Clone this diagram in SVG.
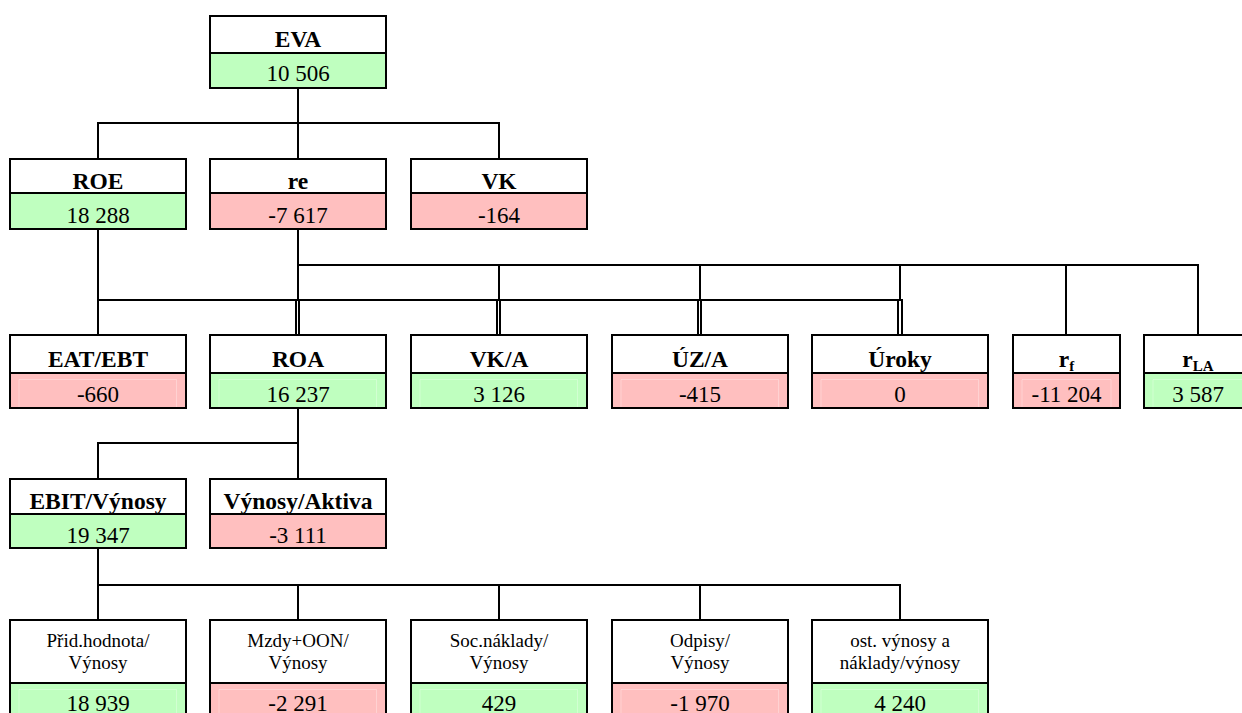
<svg xmlns="http://www.w3.org/2000/svg" width="1242" height="713" viewBox="0 0 1242 713">
  <style>
    .frame { fill: #ffffff; stroke: #000000; stroke-width: 2; }
    .pos { fill: #bfffbf; stroke: #000000; stroke-width: 2; }
    .neg { fill: #ffbfbf; stroke: #000000; stroke-width: 2; }
    .inner { fill: none; stroke: #ffffff; stroke-opacity: 0.3; stroke-width: 1; }
    .lbl { font-family: "Liberation Serif", "Times New Roman", serif; font-weight: bold; font-size: 23.5px; text-anchor: middle; fill: #000; }
    .val { font-family: "Liberation Serif", "Times New Roman", serif; font-size: 23px; text-anchor: middle; fill: #000; }
    .sm { font-family: "Liberation Serif", "Times New Roman", serif; font-size: 19px; text-anchor: middle; fill: #000; }
    .wire { fill: none; stroke: #000000; stroke-width: 2; }
  </style>

  <rect width="1242" height="713" fill="#ffffff"/>

  <!-- connectors -->
  <g id="connectors" class="wire">
    <!-- EVA to its three factors -->
    <path d="M298 88V123 M98 159V123H499V159 M298 123V159"/>
    <!-- ROE branch -->
    <path d="M98 229V335 M98 300H902V335 M296 300V335 M497 300V335 M698 300V335"/>
    <!-- re branch -->
    <path d="M298 229V265H1198V335 M298 265V300 M299 300V335 M499 265V300 M500 300V335 M700 265V300 M701 300V335 M900 265V300 M898 300V335 M1066 265V335"/>
    <!-- ROA branch -->
    <path d="M298 408V443H98V479 M298 443V479"/>
    <!-- EBIT/Výnosy branch -->
    <path d="M98 548V620 M98 585H900V620 M298 585V620 M499 585V620 M700 585V620"/>
  </g>

  <!-- level 1 -->
  <g id="eva">
    <rect class="frame" x="210" y="16" width="176" height="37"/>
    <rect class="pos" x="210" y="53" width="176" height="35"/>
    <text class="lbl" x="298" y="47">EVA</text>
    <text class="val" x="298" y="81">10 506</text>
  </g>

  <!-- level 2 -->
  <g id="roe">
    <rect class="frame" x="10" y="159" width="176" height="34"/>
    <rect class="pos" x="10" y="193" width="176" height="36"/>
    <text class="lbl" x="98" y="189">ROE</text>
    <text class="val" x="98" y="223">18 288</text>
  </g>
  <g id="re">
    <rect class="frame" x="210" y="159" width="176" height="34"/>
    <rect class="neg" x="210" y="193" width="176" height="36"/>
    <text class="lbl" x="298" y="189">re</text>
    <text class="val" x="298" y="223">-7 617</text>
  </g>
  <g id="vk">
    <rect class="frame" x="411" y="159" width="176" height="34"/>
    <rect class="neg" x="411" y="193" width="176" height="36"/>
    <text class="lbl" x="499" y="189">VK</text>
    <text class="val" x="499" y="223">-164</text>
  </g>

  <!-- level 3 -->
  <g id="eat-ebt">
    <rect class="frame" x="10" y="335" width="176" height="38"/>
    <rect class="neg" x="10" y="373" width="176" height="35"/>
    <path class="inner" d="M19 407V379.5H176.5V407"/>
    <text class="lbl" x="98" y="367">EAT/EBT</text>
    <text class="val" x="98" y="402">-660</text>
  </g>
  <g id="roa">
    <rect class="frame" x="210" y="335" width="176" height="38"/>
    <rect class="pos" x="210" y="373" width="176" height="35"/>
    <path class="inner" d="M219 407V379.5H376.5V407"/>
    <text class="lbl" x="298" y="367">ROA</text>
    <text class="val" x="298" y="402">16 237</text>
  </g>
  <g id="vk-a">
    <rect class="frame" x="411" y="335" width="176" height="38"/>
    <rect class="pos" x="411" y="373" width="176" height="35"/>
    <path class="inner" d="M420 407V379.5H577.5V407"/>
    <text class="lbl" x="499" y="367">VK/A</text>
    <text class="val" x="499" y="402">3 126</text>
  </g>
  <g id="uz-a">
    <rect class="frame" x="612" y="335" width="176" height="38"/>
    <rect class="neg" x="612" y="373" width="176" height="35"/>
    <path class="inner" d="M621 407V379.5H778.5V407"/>
    <text class="lbl" x="700" y="367">ÚZ/A</text>
    <text class="val" x="700" y="402">-415</text>
  </g>
  <g id="uroky">
    <rect class="frame" x="812" y="335" width="176" height="38"/>
    <rect class="neg" x="812" y="373" width="176" height="35"/>
    <path class="inner" d="M821 407V379.5H978.5V407"/>
    <text class="lbl" x="900" y="367">Úroky</text>
    <text class="val" x="900" y="402">0</text>
  </g>
  <g id="r-f">
    <rect class="frame" x="1013" y="335" width="107" height="38"/>
    <rect class="neg" x="1013" y="373" width="107" height="35"/>
    <path class="inner" d="M1022 407V379.5H1111V407"/>
    <text class="lbl" x="1066.5" y="367">r<tspan font-size="15" dy="4">f</tspan></text>
    <text class="val" x="1066.5" y="402">-11 204</text>
  </g>
  <g id="r-la">
    <rect class="frame" x="1144" y="335" width="108" height="38"/>
    <rect class="pos" x="1144" y="373" width="108" height="35"/>
    <path class="inner" d="M1153 407V379.5H1243"/>
    <text class="lbl" x="1198" y="367">r<tspan font-size="15" dy="4">LA</tspan></text>
    <text class="val" x="1198" y="402">3 587</text>
  </g>

  <!-- level 4 -->
  <g id="ebit-vynosy">
    <rect class="frame" x="10" y="479" width="176" height="35"/>
    <rect class="pos" x="10" y="514" width="176" height="34"/>
    <text class="lbl" x="98" y="508.5">EBIT/Výnosy</text>
    <text class="val" x="98" y="543">19 347</text>
  </g>
  <g id="vynosy-aktiva">
    <rect class="frame" x="210" y="479" width="176" height="35"/>
    <rect class="neg" x="210" y="514" width="176" height="34"/>
    <text class="lbl" x="298" y="508.5">Výnosy/Aktiva</text>
    <text class="val" x="298" y="543">-3 111</text>
  </g>

  <!-- level 5 -->
  <g id="prid-hodnota">
    <rect class="frame" x="10" y="620" width="176" height="63"/>
    <rect class="pos" x="10" y="683" width="176" height="40"/>
    <path class="inner" d="M19 720V689.5H176.5V720"/>
    <text class="sm" x="98" y="647">Přid.hodnota/</text>
    <text class="sm" x="98" y="669">Výnosy</text>
    <text class="val" x="98" y="711">18 939</text>
  </g>
  <g id="mzdy-oon">
    <rect class="frame" x="210" y="620" width="176" height="63"/>
    <rect class="neg" x="210" y="683" width="176" height="40"/>
    <path class="inner" d="M219 720V689.5H376.5V720"/>
    <text class="sm" x="298" y="647">Mzdy+OON/</text>
    <text class="sm" x="298" y="669">Výnosy</text>
    <text class="val" x="298" y="711">-2 291</text>
  </g>
  <g id="soc-naklady">
    <rect class="frame" x="411" y="620" width="176" height="63"/>
    <rect class="pos" x="411" y="683" width="176" height="40"/>
    <path class="inner" d="M420 720V689.5H577.5V720"/>
    <text class="sm" x="499" y="647">Soc.náklady/</text>
    <text class="sm" x="499" y="669">Výnosy</text>
    <text class="val" x="499" y="711">429</text>
  </g>
  <g id="odpisy">
    <rect class="frame" x="612" y="620" width="176" height="63"/>
    <rect class="neg" x="612" y="683" width="176" height="40"/>
    <path class="inner" d="M621 720V689.5H778.5V720"/>
    <text class="sm" x="700" y="647">Odpisy/</text>
    <text class="sm" x="700" y="669">Výnosy</text>
    <text class="val" x="700" y="711">-1 970</text>
  </g>
  <g id="ost-vynosy">
    <rect class="frame" x="812" y="620" width="176" height="63"/>
    <rect class="pos" x="812" y="683" width="176" height="40"/>
    <path class="inner" d="M821 720V689.5H978.5V720"/>
    <text class="sm" x="900" y="647">ost. výnosy a</text>
    <text class="sm" x="900" y="669">náklady/výnosy</text>
    <text class="val" x="900" y="711">4 240</text>
  </g>
</svg>
